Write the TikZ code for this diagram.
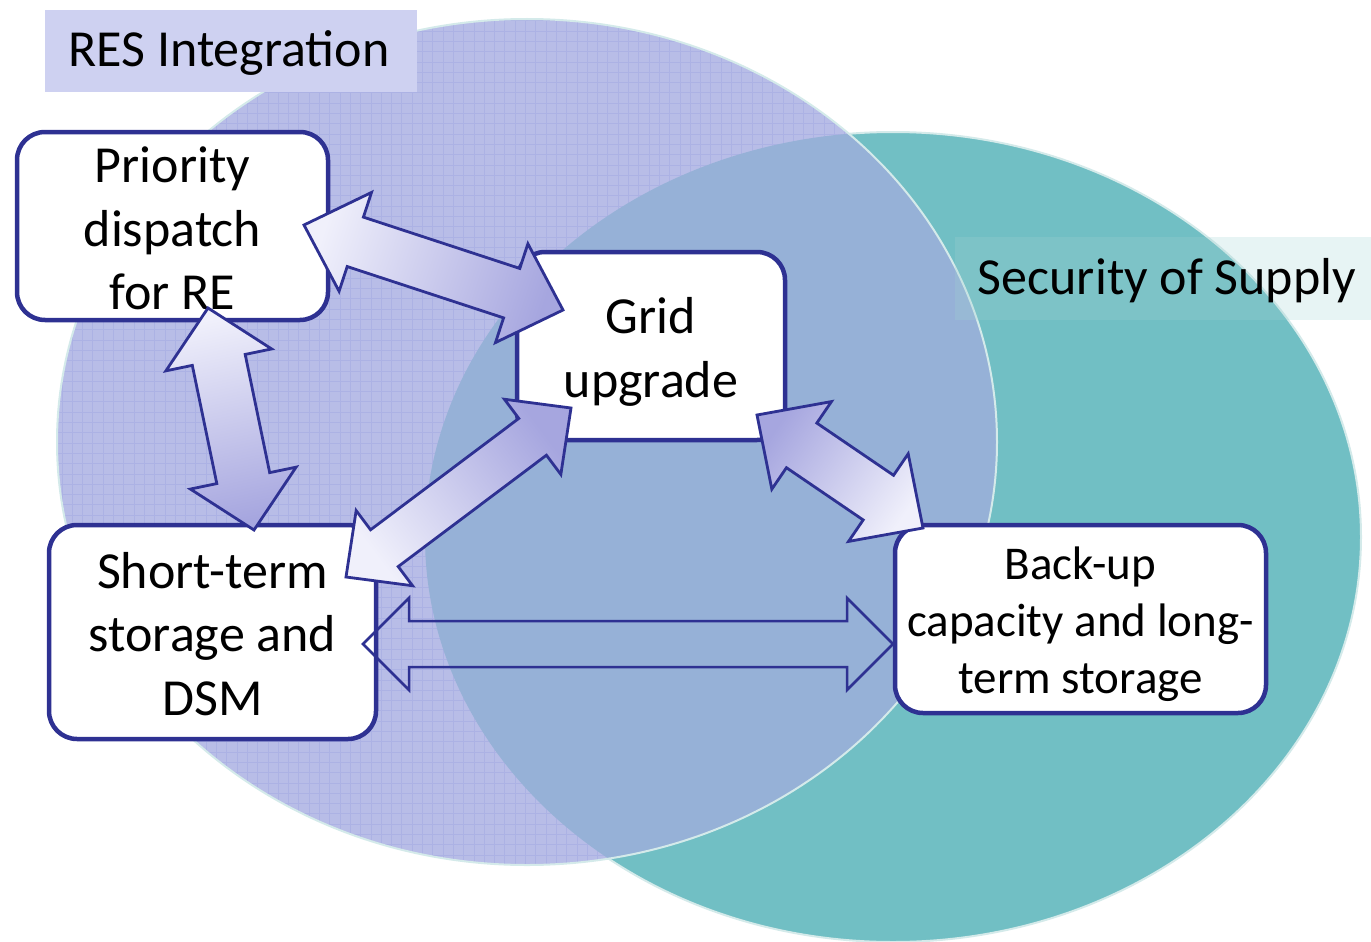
\documentclass[tikz,border=0pt]{standalone}
\usepackage{fontspec}
\setmainfont{Carlito}
\usetikzlibrary{calc}
\definecolor{tealc}{RGB}{113,191,196}
\definecolor{purplec}{RGB}{184,189,231}
\definecolor{overlapc}{RGB}{150,177,215}
\definecolor{rimc}{RGB}{212,234,234}
\definecolor{gridc}{RGB}{172,178,228}
\definecolor{boxblue}{RGB}{46,49,146}
\definecolor{arrlight}{RGB}{240,240,251}
\definecolor{arrdark}{RGB}{166,166,223}
\definecolor{reslab}{RGB}{206,209,241}
\definecolor{seclab}{RGB}{161,210,210}
\newcommand\blockarrow[6][]{%
  \path[#1] (#2)
   -- ($(#2)!#6!(#3)!#5!90:(#3)$)
   -- ($(#2)!#6!(#3)!#4!90:(#3)$)
   -- ($(#3)!#6!(#2)!#4!-90:(#2)$)
   -- ($(#3)!#6!(#2)!#5!-90:(#2)$)
   -- (#3)
   -- ($(#3)!#6!(#2)!#5!90:(#2)$)
   -- ($(#3)!#6!(#2)!#4!90:(#2)$)
   -- ($(#2)!#6!(#3)!#4!-90:(#3)$)
   -- ($(#2)!#6!(#3)!#5!-90:(#3)$)
   -- cycle;}
\tikzset{
  conceptbox/.style={draw=boxblue, line width=4.5pt, fill=white, rounded corners=28pt, inner sep=0pt},
  boxtext/.style={align=center, inner sep=0pt, text=black, font=\fontsize{52}{63.5}\selectfont},
  shadedarrow/.style={shade, draw=boxblue, line width=2.8pt, line join=miter,
    top color=arrlight, bottom color=arrdark, shading angle=#1},
  plainarrow/.style={draw=boxblue, line width=2.5pt, line join=miter},
  labeltext/.style={font=\fontsize{52}{60}\selectfont, text=black, inner sep=0pt}
}
\begin{document}
\begin{tikzpicture}[x=1pt,y=-1pt]
\useasboundingbox (0,0) rectangle (1371,942);
% circles
\fill[tealc] (893,537) ellipse [x radius=468, y radius=405];
\draw[rimc, line width=2pt] (893,537) ellipse [x radius=468, y radius=405];
\fill[purplec] (527,442) ellipse [x radius=470, y radius=423];
\begin{scope}
  \clip (527,442) ellipse [x radius=470, y radius=423];
  \draw[gridc, line width=0.5pt] (50,10) grid[step=10.3pt] (1000,870);
\end{scope}
\begin{scope}
  \clip (893,537) ellipse [x radius=468, y radius=405];
  \fill[overlapc] (527,442) ellipse [x radius=470, y radius=423];
\end{scope}
\draw[rimc, line width=2pt] (527,442) ellipse [x radius=470, y radius=423];
% labels
\node[fill=reslab, minimum width=372pt, minimum height=82pt, inner sep=0pt] (resbg) at (231,51) {};
\node[labeltext] (reslabel) at (229,53) {RES Integration};
\node[fill=seclab, fill opacity=0.25, minimum width=416pt, minimum height=83pt, inner sep=0pt] (secbg) at (1163,278.5) {};
\node[labeltext] (seclabel) at (1167,281) {Security of Supply};
% boxes
\node[conceptbox, minimum width=311pt, minimum height=188pt] (prio) at (172.5,226) {};
\node[boxtext] (priotext) at ($(prio.center)+(0,2.5)$) {Priority\\dispatch\\for RE};
\node[conceptbox, minimum width=268pt, minimum height=188pt] (grid) at (651,346) {};
\node[boxtext] (gridtext) at ($(grid.center)+(0,6)$) {Grid\\upgrade};
\node[conceptbox, minimum width=327pt, minimum height=214pt] (short) at (212.5,632) {};
\node[boxtext] (shorttext) at ($(short.center)+(0,2)$) {Short-term\\storage and\\DSM};
\node[conceptbox, minimum width=371pt, minimum height=188pt] (backup) at (1080.5,619) {};
\node[boxtext, font=\fontsize{47}{57}\selectfont] (backuptext) at ($(backup.center)+(0,5)$) {Back-up\\capacity and long-\\term storage};
% arrow ends
\coordinate (a1s) at (304,225);
\coordinate (a1e) at (563,310);
\coordinate (a2s) at (346,577);
\coordinate (a2e) at (571,408);
\coordinate (a3s) at (923,528);
\coordinate (a3e) at (757,415);
\coordinate (a4s) at (208,308);
\coordinate (a4e) at (254,530);
\coordinate (a5s) at (363,644);
\coordinate (a5e) at (893,644);
% arrows
\blockarrow[shadedarrow=71.8]{a1s}{a1e}{26pt}{52pt}{54pt}
\blockarrow[shadedarrow=126.9]{a2s}{a2e}{23pt}{47pt}{48pt}
\blockarrow[shadedarrow=235.8]{a3s}{a3e}{27pt}{53pt}{54pt}
\blockarrow[shadedarrow=11.7]{a4s}{a4e}{27pt}{54pt}{53pt}
\blockarrow[plainarrow]{a5s}{a5e}{23pt}{46pt}{46pt}
\end{tikzpicture}
\end{document}
